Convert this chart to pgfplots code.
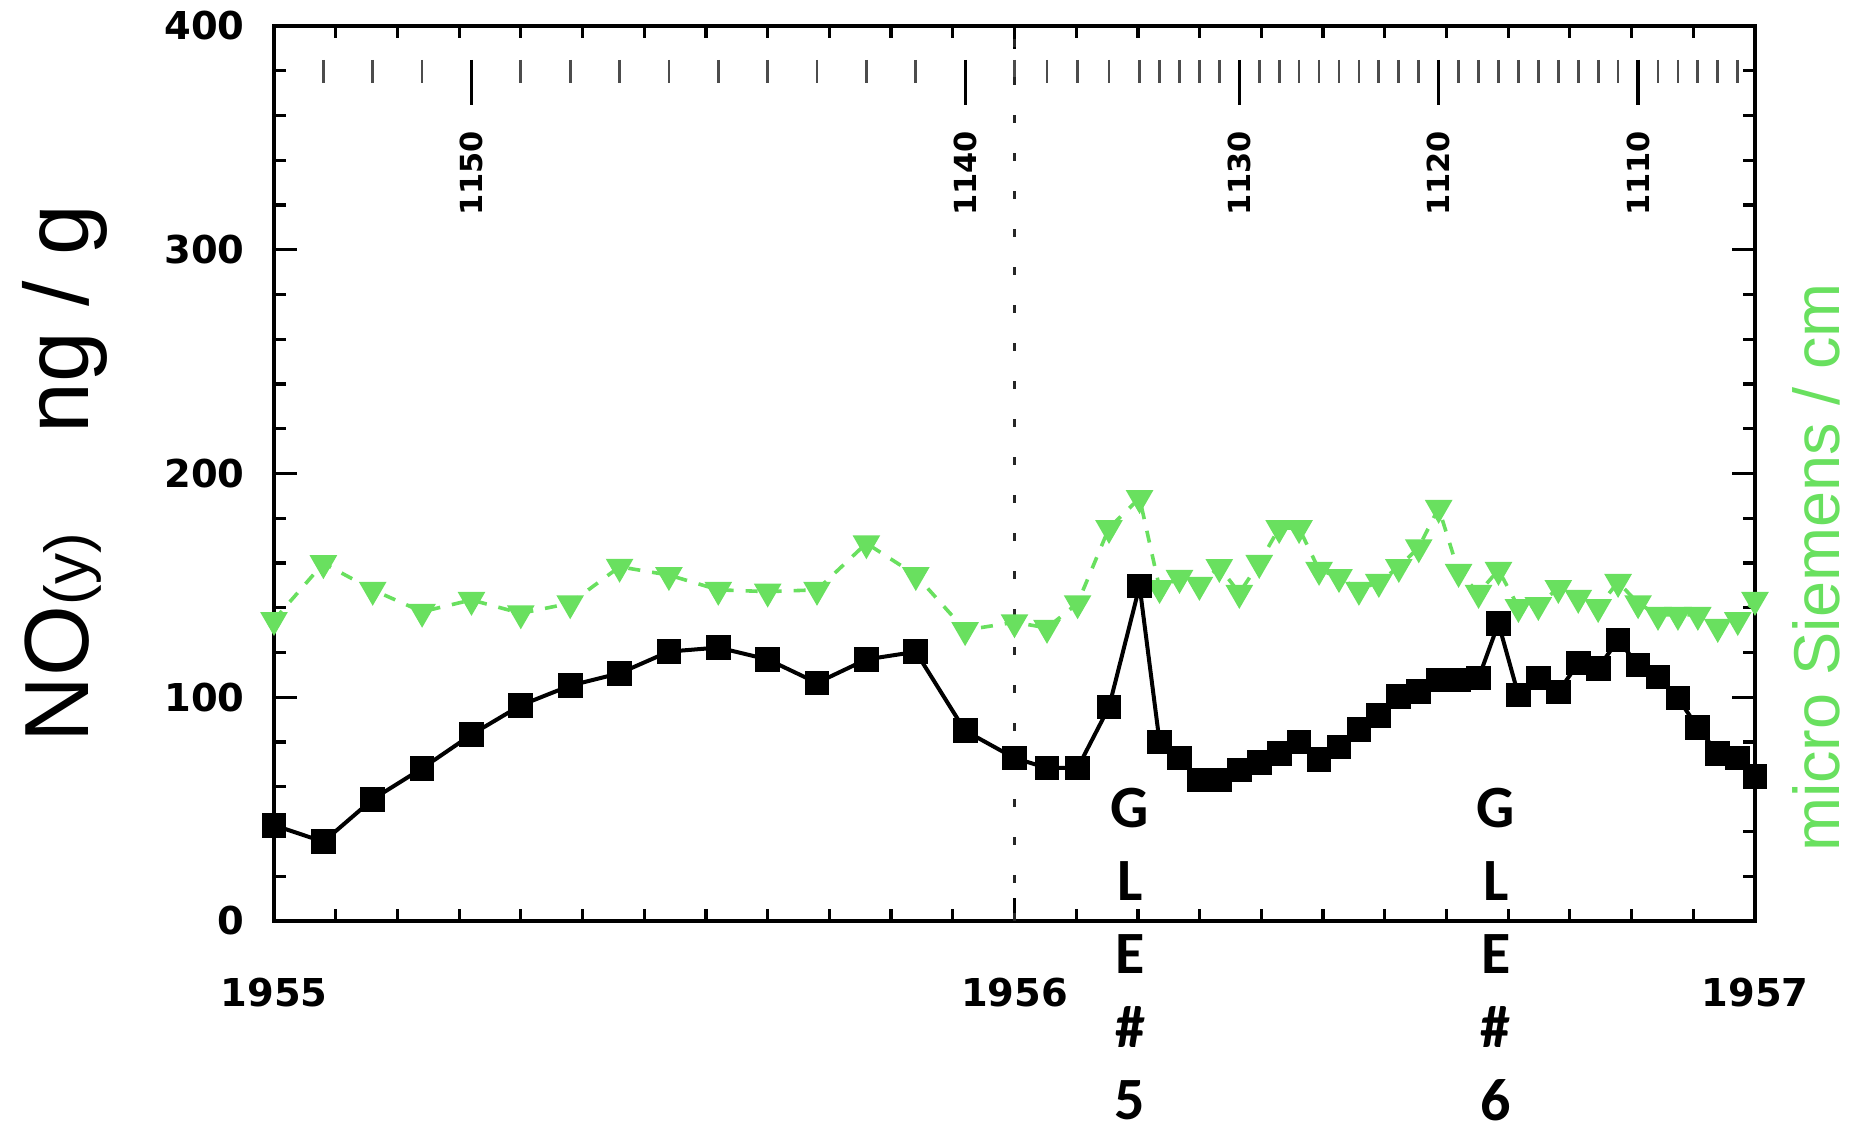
\documentclass[border=0pt]{standalone}
\usepackage{pgfplots}
\pgfplotsset{compat=1.18}
\usepackage{fontspec}
\setmainfont{Liberation Sans}
\newfontfamily\dejavu{DejaVu Sans}
\newfontfamily\carlito{Carlito}
\definecolor{cgreen}{RGB}{105,224,95}
\tikzset{gle/.style={anchor=center, inner sep=0pt, font=\carlito\bfseries\fontsize{15}{18}\selectfont}}

\begin{document}
\begin{tikzpicture}
\path[use as bounding box] (-68.5pt,-52.5pt) rectangle (395pt,230.25pt);
\begin{axis}[
  at={(0pt,0pt)}, anchor=south west,
  scale only axis, width=370.25pt, height=223.75pt,
  xmin=1955, xmax=1957, ymin=0, ymax=400,
  enlargelimits=false,
  xtick={1955,1956,1957},
  xticklabels={1955,1956,1957},
  minor x tick num=11,
  ytick={0,100,200,300,400},
  yticklabels={0,100,200,300,400},
  minor y tick num=4,
  major tick length=5.8pt, minor tick length=3pt,
  tick style={line width=0.8pt, black},
  axis line style={line width=0.9pt},
  tick label style={font=\dejavu\bfseries\fontsize{9.6}{11}\selectfont},
  xticklabel style={yshift=-10.8pt},
  yticklabel style={xshift=-3.8pt},
  clip mode=individual,
]

% depth scale (short ticks)
\addplot[only marks, mark=|, mark size=2.88pt, black!70, mark options={line width=0.7pt}] coordinates {
(1955.0667,379.65) (1955.1333,379.65) (1955.2000,379.65) (1955.3333,379.65)
(1955.4000,379.65) (1955.4667,379.65) (1955.5333,379.65) (1955.6000,379.65)
(1955.6667,379.65) (1955.7333,379.65) (1955.8000,379.65) (1955.8667,379.65)
(1956.0000,379.65) (1956.0439,379.65) (1956.0852,379.65) (1956.1276,379.65)
(1956.1689,379.65) (1956.1959,379.65) (1956.2228,379.65) (1956.2497,379.65)
(1956.2766,379.65) (1956.3305,379.65) (1956.3574,379.65) (1956.3843,379.65)
(1956.4113,379.65) (1956.4382,379.65) (1956.4651,379.65) (1956.4920,379.65)
(1956.5190,379.65) (1956.5459,379.65) (1956.5997,379.65) (1956.6267,379.65)
(1956.6536,379.65) (1956.6805,379.65) (1956.7074,379.65) (1956.7344,379.65)
(1956.7613,379.65) (1956.7882,379.65) (1956.8151,379.65) (1956.8690,379.65)
(1956.8959,379.65) (1956.9228,379.65) (1956.9497,379.65) (1956.9767,379.65)
};
% depth scale (long ticks)
\addplot[only marks, mark=|, mark size=5.62pt, black, mark options={line width=0.8pt}] coordinates {
(1955.2667,374.75) (1955.9333,374.75) (1956.3036,374.75) (1956.5728,374.75) (1956.8421,374.75)
};

% vertical dashed line at 1956
\addplot[black!85, line width=0.6pt, dash pattern=on 2pt off 7.5pt] coordinates {(1956,0) (1956,400)};

% conductivity (green)
\addplot[cgreen, line width=0.9pt, dash pattern=on 3pt off 3pt, mark=triangle*, mark size=3.1pt,
  mark options={solid, rotate=180, fill=cgreen, draw=cgreen}] coordinates {
(1955.0000,134.5) (1955.0667,159.9) (1955.1333,148.0) (1955.2000,138.2)
(1955.2667,143.5) (1955.3333,137.5) (1955.4000,142.0) (1955.4667,158.3)
(1955.5333,154.6) (1955.6000,148.0) (1955.6667,147.2) (1955.7333,148.0)
(1955.8000,168.8) (1955.8667,154.6) (1955.9333,130.0) (1956.0000,133.5)
(1956.0439,131.0) (1956.0852,142.0) (1956.1276,175.6) (1956.1689,189.0)
(1956.1959,148.8) (1956.2228,153.3) (1956.2497,150.2) (1956.2766,158.2)
(1956.3036,146.6) (1956.3305,160.0) (1956.3574,175.6) (1956.3843,175.6)
(1956.4113,156.9) (1956.4382,153.7) (1956.4651,148.0) (1956.4920,151.5)
(1956.5190,158.2) (1956.5459,167.0) (1956.5728,184.6) (1956.5997,156.0)
(1956.6267,146.6) (1956.6536,156.9) (1956.6805,140.3) (1956.7074,141.2)
(1956.7344,148.8) (1956.7613,144.4) (1956.7882,140.3) (1956.8151,151.5)
(1956.8421,142.0) (1956.8690,136.8) (1956.8959,136.8) (1956.9228,136.8)
(1956.9497,131.4) (1956.9767,134.5) (1957.0000,143.5)
};

% NO(y) (black)
\addplot[black, line width=1pt, mark=square*, mark size=2.6pt, mark options={solid}] coordinates {
(1955.0000,42.8) (1955.0667,35.4) (1955.1333,54.4) (1955.2000,68.2)
(1955.2667,83.3) (1955.3333,96.4) (1955.4000,105.2) (1955.4667,110.7)
(1955.5333,120.4) (1955.6000,122.2) (1955.6667,116.9) (1955.7333,106.4)
(1955.8000,116.9) (1955.8667,120.3) (1955.9333,85.0) (1956.0000,72.8)
(1956.0439,68.4) (1956.0852,68.4) (1956.1276,95.6) (1956.1689,149.7)
(1956.1959,80.0) (1956.2228,72.8) (1956.2497,63.0) (1956.2766,63.0)
(1956.3036,67.5) (1956.3305,71.0) (1956.3574,75.0) (1956.3843,80.0)
(1956.4113,72.0) (1956.4382,77.8) (1956.4651,85.4) (1956.4920,92.0)
(1956.5190,100.5) (1956.5459,102.5) (1956.5728,107.7) (1956.5997,107.7)
(1956.6267,108.6) (1956.6536,133.0) (1956.6805,101.0) (1956.7074,108.6)
(1956.7344,102.3) (1956.7613,115.3) (1956.7882,113.0) (1956.8151,125.6)
(1956.8421,114.4) (1956.8690,109.0) (1956.8959,99.7) (1956.9228,86.3)
(1956.9497,75.0) (1956.9767,72.8) (1957.0000,64.4)
};

% depth labels
\foreach \xx/\lab in {1955.2667/1150, 1955.9333/1140, 1956.3036/1130, 1956.5728/1120, 1956.8421/1110}{
  \edef\temp{\noexpand\node[rotate=90, inner sep=0pt, font=\noexpand\dejavu\noexpand\bfseries\noexpand\fontsize{7.6}{9}\noexpand\selectfont] at (axis cs:\xx,334) {\lab};}
  \temp
}

% axis titles
\node[rotate=90, anchor=base, inner sep=0pt] at ([xshift=-46.25pt]rel axis cs:0,0.5)
  {\fontsize{22.8}{27}\selectfont NO{\fontsize{15.5}{18}\selectfont(y)}\hspace{25pt}ng / g};
\node[rotate=90, anchor=base, inner sep=0pt, text=cgreen] at ([xshift=21pt]rel axis cs:1,0.395)
  {\fontsize{16.2}{19}\selectfont micro Siemens / cm};

% GLE annotations (one letter per line)
\node[gle] at (axis cs:1956.156,50.5) {G};
\node[gle] at (axis cs:1956.156,17.9) {L};
\node[gle] at (axis cs:1956.156,-14.7) {E};
\node[gle] at (axis cs:1956.156,-47.4) {\#};
\node[gle] at (axis cs:1956.156,-80.0) {5};
\node[gle] at (axis cs:1956.650,50.5) {G};
\node[gle] at (axis cs:1956.650,17.9) {L};
\node[gle] at (axis cs:1956.650,-14.7) {E};
\node[gle] at (axis cs:1956.650,-47.4) {\#};
\node[gle] at (axis cs:1956.650,-80.0) {6};
\end{axis}
\end{tikzpicture}
\end{document}
